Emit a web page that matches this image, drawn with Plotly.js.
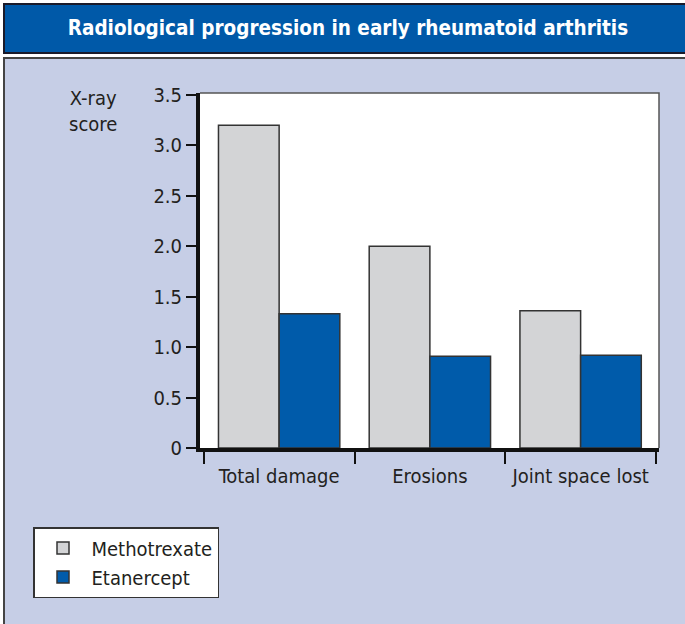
<!DOCTYPE html>
<html>
<head>
<meta charset="utf-8">
<script src="https://cdn.plot.ly/plotly-3.0.1.min.js"></script>
<style>html,body{margin:0;padding:0;background:#fff;}#chart{width:685px;height:624px;}</style>
</head>
<body>
<div id="chart"></div>
<script>
const categories = ["Total damage", "Erosions", "Joint space lost"];
const methotrexate = [3.2, 2.0, 1.36];
const etanercept = [1.33, 0.91, 0.92];
const yTickVals = [0, 0.5, 1, 1.5, 2, 2.5, 3, 3.5];
const yTickText = ["0", "0.5", "1.0", "1.5", "2.0", "2.5", "3.0", "3.5"];

const FONT = '"DejaVu Sans Condensed", "Liberation Sans Narrow", Arial, sans-serif';
const TXT = '#231f20';

// plot area geometry (px)
const W = 685, H = 624, L = 200, R = 26, T = 93, B = 176;
const pw = W - L - R, ph = H - T - B;
const px = x => (x - L) / pw;
const py = y => (H - B - y) / ph;

const traces = [
  {type: 'bar', name: 'Methotrexate', x: categories, y: methotrexate,
   marker: {color: '#d3d4d6', line: {color: '#333333', width: 1.5}}},
  {type: 'bar', name: 'Etanercept', x: categories, y: etanercept,
   marker: {color: '#005baa', line: {color: '#333333', width: 1.5}}}
];

const layout = {
  width: W, height: H,
  margin: {l: L, r: R, t: T, b: B, pad: 0},
  paper_bgcolor: '#ffffff',
  plot_bgcolor: '#ffffff',
  barmode: 'group', bargap: 0.195, bargroupgap: 0,
  font: {family: FONT, color: TXT, size: 20},
  title: {text: '<b>Radiological progression in early rheumatoid arthritis</b>',
          font: {family: FONT, size: 20.5, color: '#ffffff'},
          x: 0.508, xanchor: 'center', xref: 'container',
          y: 1 - 28 / H, yanchor: 'middle', yref: 'container'},
  xaxis: {range: [-0.525, 2.52], showline: true, linecolor: '#111111', linewidth: 4,
          ticks: 'outside', tickson: 'boundaries', ticklen: 12, tickwidth: 2, tickcolor: '#111111',
          ticklabelstandoff: 7,
          tickfont: {family: FONT, size: 20, color: TXT}, showgrid: false, zeroline: false, fixedrange: true},
  yaxis: {range: [0, 3.52], showline: true, linecolor: '#111111', linewidth: 4,
          tickvals: yTickVals, ticktext: yTickText,
          ticks: 'outside', ticklen: 10, tickwidth: 2, tickcolor: '#111111',
          tickfont: {family: FONT, size: 20, color: TXT}, showgrid: false, zeroline: false, fixedrange: true},
  showlegend: true,
  legend: {x: px(33), y: py(527), xanchor: 'left', yanchor: 'top',
           bgcolor: '#ffffff', bordercolor: '#333333', borderwidth: 1.5,
           font: {family: FONT, size: 20, color: TXT}, itemwidth: 47,
           tracegroupgap: 0},
  annotations: [
    {text: 'X-ray<br>score', xref: 'paper', yref: 'paper', x: px(93), y: py(84),
     xanchor: 'center', yanchor: 'top', showarrow: false, align: 'center',
     font: {family: FONT, size: 20, color: TXT}}
  ],
  shapes: [
    {type: 'rect', xref: 'paper', yref: 'paper', layer: 'below',
     x0: px(4), x1: px(700), y0: py(58), y1: py(640),
     fillcolor: '#c6cee6', line: {color: '#444444', width: 2}},
    {type: 'rect', xref: 'paper', yref: 'paper', layer: 'below',
     x0: px(4), x1: px(700), y0: py(4), y1: py(53),
     fillcolor: '#0059a8', line: {color: '#1a1a2a', width: 2}},
    {type: 'rect', xref: 'paper', yref: 'paper', layer: 'below',
     x0: 0, x1: 1, y0: 0, y1: 1, fillcolor: '#ffffff', line: {width: 0}},
    {type: 'path', xref: 'paper', yref: 'paper', layer: 'above',
     path: 'M 0,1 L 1,1 L 1,0', line: {color: '#555555', width: 1.5}}
  ]
};

Plotly.newPlot('chart', traces, layout, {displayModeBar: false, staticPlot: true});
</script>
</body>
</html>
